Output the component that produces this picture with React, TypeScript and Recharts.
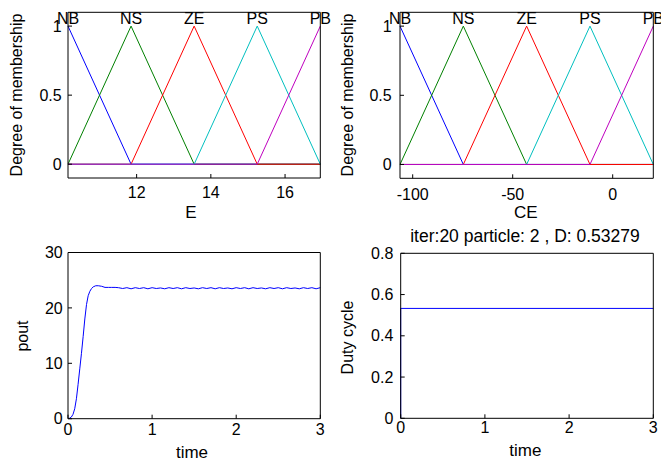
import { LineChart, Line, XAxis, YAxis, ReferenceDot, Label } from 'recharts';

const W = 661;
const H = 461;
const YW = 60; // room for y ticks
const XH = 40; // room for x ticks
const FONT = '"Liberation Sans", Arial, Helvetica, sans-serif';

// fuzzy sets
const mfNames = ['NB', 'NS', 'ZE', 'PS', 'PB'];
const mfColors = ['#0000ff', '#008000', '#ff0000', '#00bfbf', '#bf00bf'];
const ePeaks = [10.15, 11.85, 13.55, 15.25, 16.95];
const cePeaks = [-106.35, -74.69, -43.03, -11.36, 20.3];
const eTicks = [12, 14, 16];
const ceTicks = [-100, -50, 0];
const degreeTicks = [0, 0.5, 1];
const NAME_Y = 1.06;

// output power response
const poutTime = [
  0, 0.02, 0.04, 0.06, 0.08, 0.1, 0.12, 0.14, 0.16, 0.18, 0.2, 0.22, 0.24, 0.26, 0.28, 0.3,
  0.33, 0.36, 0.4, 0.44, 0.48, 0.52, 0.56,
  0.6, 0.65, 0.7, 0.75, 0.8, 0.85, 0.9,
  0.95, 1.0, 1.05, 1.1, 1.15, 1.2, 1.25,
  1.3, 1.35, 1.4, 1.45, 1.5, 1.55, 1.6,
  1.65, 1.7, 1.75, 1.8, 1.85, 1.9, 1.95,
  2.0, 2.05, 2.1, 2.15, 2.2, 2.25, 2.3,
  2.35, 2.4, 2.45, 2.5, 2.55, 2.6, 2.65,
  2.7, 2.75, 2.8, 2.85, 2.9, 2.95, 3.0,
];
const poutValue = [
  0, 0.1, 0.3, 0.8, 1.8, 3.6, 6.2, 9.0, 11.8, 14.8, 18.0, 20.6, 22.2, 23.0, 23.5, 23.8,
  24.0, 24.0, 23.9, 23.7, 23.7, 23.7, 23.7,
  23.65, 23.5, 23.65, 23.45, 23.65, 23.5, 23.65,
  23.45, 23.65, 23.5, 23.6, 23.45, 23.65, 23.5,
  23.65, 23.45, 23.65, 23.5, 23.6, 23.45, 23.65,
  23.5, 23.65, 23.45, 23.65, 23.5, 23.6, 23.45,
  23.65, 23.5, 23.65, 23.45, 23.65, 23.5, 23.6,
  23.45, 23.65, 23.5, 23.65, 23.45, 23.65, 23.5,
  23.6, 23.45, 23.65, 23.5, 23.65, 23.45, 23.65,
];
const poutTicks = [0, 10, 20, 30];
const timeTicks = [0, 1, 2, 3];

// duty cycle of the best particle
const dutyTime = [0, 0, 3];
const dutyValue = [0, 0.53279, 0.53279];
const dutyTicks = [0, 0.2, 0.4, 0.6, 0.8];
const dutyTitle = 'iter:20 particle: 2 , D: 0.53279';

type Box = { x0: number; y0: number; x1: number; y1: number };

const boxE: Box = { x0: 68, y0: 12.3, x1: 320.3, y1: 178 };
const boxCE: Box = { x0: 400, y0: 12.3, x1: 653.3, y1: 178.3 };
const boxPout: Box = { x0: 68, y0: 252.5, x1: 320.3, y1: 418.7 };
const boxDuty: Box = { x0: 400.7, y0: 253.3, x1: 653.3, y1: 418.3 };

const marginFor = (b: Box) => ({
  top: b.y0,
  left: b.x0 - YW,
  right: W - b.x1,
  bottom: H - b.y1 - XH,
});

const tickStyle = { fill: '#000', fontSize: 16 };
const black = { stroke: '#000' };

const text = (x: number, y: number, value: string, size: number, vertical = false) => () => (
  <text
    x={x}
    y={y}
    fill="#000"
    fontSize={size}
    textAnchor="middle"
    dominantBaseline="central"
    transform={vertical ? `rotate(-90 ${x} ${y})` : undefined}
  >
    {value}
  </text>
);

// mirrored top/right axes close the box and carry the inner ticks
const boxAxes = (xDomain: number[], xTicks: number[], yDomain: number[], yTicks: number[]) => [
  <XAxis
    key="top"
    xAxisId="top"
    orientation="top"
    type="number"
    mirror
    domain={xDomain}
    ticks={xTicks}
    tick={false}
    tickSize={4}
    axisLine={black}
    tickLine={black}
  />,
  <YAxis
    key="right"
    yAxisId="right"
    orientation="right"
    type="number"
    mirror
    domain={yDomain}
    ticks={yTicks}
    tick={false}
    tickSize={4}
    axisLine={black}
    tickLine={black}
  />,
];

const triangle = (peaks: number[], i: number) =>
  peaks.map((p, j) => ({ x: p, y: j === i ? 1 : 0 }));

function MembershipPlot({
  box,
  peaks,
  ticks,
  xLabel,
  xLabelX,
  yLabelX,
  tickMargin,
  yTickMargin,
}: {
  box: Box;
  peaks: number[];
  ticks: number[];
  xLabel: string;
  xLabelX: number;
  yLabelX: number;
  tickMargin: number;
  yTickMargin: number;
}) {
  const xDomain = [peaks[0], peaks[peaks.length - 1]];
  return (
    <div style={{ position: 'absolute', left: 0, top: 0 }}>
      <LineChart width={W} height={H} margin={marginFor(box)}>
        <XAxis
          dataKey="x"
          type="number"
          domain={xDomain}
          ticks={ticks}
          interval={0}
          height={XH}
          tick={tickStyle}
          tickSize={-4}
          tickMargin={tickMargin}
          axisLine={black}
          tickLine={black}
        >
          <Label content={text(xLabelX, 212, xLabel, 17)} />
        </XAxis>
        <YAxis
          type="number"
          domain={[-0.1, 1.1]}
          ticks={degreeTicks}
          interval={0}
          width={YW}
          tick={tickStyle}
          tickSize={-4}
          tickMargin={yTickMargin}
          axisLine={black}
          tickLine={black}
        >
          <Label content={text(yLabelX, 95, 'Degree of membership', 16, true)} />
        </YAxis>
        {boxAxes(xDomain, ticks, [-0.1, 1.1], degreeTicks)}
        {mfNames.map((name, i) => (
          <Line
            key={name}
            data={triangle(peaks, i)}
            dataKey="y"
            type="linear"
            stroke={mfColors[i]}
            strokeWidth={1}
            dot={false}
            isAnimationActive={false}
          />
        ))}
        {mfNames.map((name, i) => (
          <ReferenceDot
            key={`lbl-${name}`}
            x={peaks[i]}
            y={NAME_Y}
            r={0}
            fill="none"
            stroke="none"
            label={{ value: name, position: 'center', fill: '#000', fontSize: 16 }}
          />
        ))}
      </LineChart>
    </div>
  );
}

function PoutPlot() {
  const data = poutTime.map((t, i) => ({ t, v: poutValue[i] }));
  return (
    <div style={{ position: 'absolute', left: 0, top: 0 }}>
      <LineChart width={W} height={H} margin={marginFor(boxPout)} data={data}>
        <XAxis
          dataKey="t"
          type="number"
          domain={[0, 3]}
          ticks={timeTicks}
          interval={0}
          height={XH}
          tick={tickStyle}
          tickSize={-4}
          tickMargin={8.7}
          axisLine={black}
          tickLine={black}
        >
          <Label content={text(192, 452.5, 'time', 17)} />
        </XAxis>
        <YAxis
          type="number"
          domain={[0, 30]}
          ticks={poutTicks}
          interval={0}
          width={YW}
          tick={tickStyle}
          tickSize={-4}
          tickMargin={9.3}
          axisLine={black}
          tickLine={black}
        >
          <Label content={text(22, 336, 'pout', 16, true)} />
        </YAxis>
        {boxAxes([0, 3], timeTicks, [0, 30], poutTicks)}
        <Line dataKey="v" type="linear" stroke="#0000ff" strokeWidth={1} dot={false} isAnimationActive={false} />
      </LineChart>
    </div>
  );
}

function DutyPlot() {
  const data = dutyTime.map((t, i) => ({ t, d: dutyValue[i] }));
  return (
    <div style={{ position: 'absolute', left: 0, top: 0 }}>
      <LineChart width={W} height={H} margin={marginFor(boxDuty)} data={data}>
        <XAxis
          dataKey="t"
          type="number"
          domain={[0, 3]}
          ticks={timeTicks}
          interval={0}
          height={XH}
          tick={tickStyle}
          tickSize={-4}
          tickMargin={6.9}
          axisLine={black}
          tickLine={black}
        >
          <Label content={text(525.3, 450.5, 'time', 17)} />
        </XAxis>
        <YAxis
          type="number"
          domain={[0, 0.8]}
          ticks={dutyTicks}
          interval={0}
          width={YW}
          tick={tickStyle}
          tickSize={-4}
          tickMargin={11.4}
          axisLine={black}
          tickLine={black}
        >
          <Label content={text(347.6, 337.5, 'Duty cycle', 16, true)} />
        </YAxis>
        {boxAxes([0, 3], timeTicks, [0, 0.8], dutyTicks)}
        <Line dataKey="d" type="linear" stroke="#0000ff" strokeWidth={1} dot={false} isAnimationActive={false} />
        <ReferenceDot
          x={1.5}
          y={0.8}
          r={0}
          fill="none"
          stroke="none"
          ifOverflow="visible"
          label={{ content: text(525, 235.5, dutyTitle, 17.5) }}
        />
      </LineChart>
    </div>
  );
}

export default function App() {
  return (
    <div
      style={{
        position: 'absolute',
        left: 0,
        top: 0,
        width: W,
        height: H,
        background: '#fff',
        fontFamily: FONT,
        overflow: 'hidden',
      }}
    >
      <MembershipPlot
        box={boxE}
        peaks={ePeaks}
        ticks={eTicks}
        xLabel="E"
        xLabelX={191}
        yLabelX={16.5}
        tickMargin={12.9}
        yTickMargin={10.3}
      />
      <MembershipPlot
        box={boxCE}
        peaks={cePeaks}
        ticks={ceTicks}
        xLabel="CE"
        xLabelX={525.8}
        yLabelX={347.4}
        tickMargin={13.9}
        yTickMargin={12.3}
      />
      <PoutPlot />
      <DutyPlot />
    </div>
  );
}
